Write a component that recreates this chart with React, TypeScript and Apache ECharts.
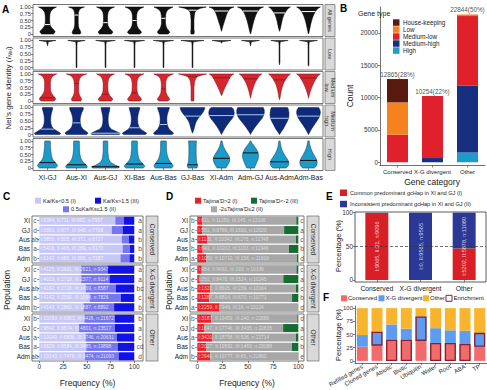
import React, { useEffect, useRef } from 'react';
import * as echarts from 'echarts';

const FONT = '"Liberation Sans", Arial, Helvetica, sans-serif';

// ---------------- Panel A: violins ----------------
const PAIRS = ['XI-GJ', 'Aus-XI', 'Aus-GJ', 'XI-Bas', 'Aus-Bas', 'GJ-Bas', 'XI-Adm', 'Adm-GJ', 'Aus-Adm', 'Adm-Bas'];
const GENE_ROWS = ['All genes', 'Low', 'Medium\nlow', 'Medium\nhigh', 'High'];
const LEVELS = [0, 0.05, 0.1, 0.2, 0.3, 0.4, 0.5, 0.6, 0.7, 0.8, 0.9, 0.95, 1];
const VIOLIN_ALL = [
  [0.4, 0.5, 0.52, 0.35, 0.2, 0.16, 0.15, 0.15, 0.16, 0.2, 0.31, 0.45, 0.62],
  [0.25, 0.3, 0.28, 0.18, 0.13, 0.12, 0.12, 0.12, 0.12, 0.14, 0.2, 0.32, 0.55],
  [0.4, 0.5, 0.48, 0.3, 0.18, 0.15, 0.14, 0.14, 0.15, 0.18, 0.28, 0.42, 0.62],
  [0.35, 0.48, 0.45, 0.28, 0.18, 0.15, 0.14, 0.14, 0.15, 0.19, 0.3, 0.45, 0.65],
  [0.3, 0.42, 0.4, 0.25, 0.17, 0.14, 0.14, 0.14, 0.15, 0.19, 0.3, 0.48, 0.66],
  [0.1, 0.12, 0.12, 0.1, 0.1, 0.1, 0.1, 0.11, 0.13, 0.17, 0.3, 0.55, 0.95],
  [0, 0, 0, 0.05, 0.1, 0.16, 0.22, 0.28, 0.34, 0.42, 0.52, 0.65, 0.86],
  [0, 0.03, 0.06, 0.1, 0.14, 0.19, 0.24, 0.3, 0.37, 0.46, 0.58, 0.7, 0.9],
  [0, 0, 0, 0.06, 0.1, 0.14, 0.18, 0.23, 0.3, 0.4, 0.52, 0.62, 0.75],
  [0, 0.03, 0.05, 0.09, 0.13, 0.17, 0.22, 0.28, 0.35, 0.45, 0.57, 0.68, 0.82],
];
const VIOLIN_LOW = [
  [0, 0, 0, 0, 0, 0, 0, 0, 0, 0, 0.04, 0.06, 0.58],
  [0.03, 0.03, 0.03, 0.03, 0.03, 0.03, 0.03, 0.03, 0.03, 0.03, 0.04, 0.06, 0.6],
  [0.03, 0.03, 0.03, 0.03, 0.03, 0.03, 0.03, 0.03, 0.03, 0.03, 0.04, 0.06, 0.68],
  [0.03, 0.03, 0.03, 0.03, 0.03, 0.03, 0.03, 0.03, 0.03, 0.03, 0.04, 0.06, 0.7],
  [0.03, 0.03, 0.03, 0.03, 0.03, 0.03, 0.03, 0.03, 0.03, 0.03, 0.04, 0.06, 0.7],
  [0.03, 0.03, 0.03, 0.03, 0.03, 0.03, 0.03, 0.03, 0.03, 0.03, 0.04, 0.07, 0.8],
  [0, 0, 0, 0, 0, 0, 0, 0, 0, 0, 0, 0.05, 0.65],
  [0, 0, 0, 0, 0, 0, 0, 0, 0, 0, 0.04, 0.06, 0.62],
  [0, 0, 0, 0.03, 0.03, 0.03, 0.03, 0.03, 0.03, 0.03, 0.04, 0.06, 0.6],
  [0, 0, 0.03, 0.03, 0.03, 0.03, 0.03, 0.03, 0.03, 0.03, 0.04, 0.06, 0.62],
];
const VIOLIN_MEDLOW = [
  [0.45, 0.55, 0.55, 0.4, 0.27, 0.21, 0.2, 0.2, 0.2, 0.23, 0.32, 0.45, 0.64],
  [0.3, 0.35, 0.33, 0.22, 0.16, 0.15, 0.15, 0.15, 0.16, 0.2, 0.3, 0.45, 0.7],
  [0.4, 0.5, 0.47, 0.3, 0.2, 0.17, 0.16, 0.16, 0.17, 0.21, 0.3, 0.44, 0.62],
  [0.38, 0.48, 0.45, 0.3, 0.2, 0.17, 0.16, 0.16, 0.17, 0.21, 0.3, 0.45, 0.65],
  [0.3, 0.42, 0.4, 0.27, 0.18, 0.16, 0.15, 0.15, 0.16, 0.2, 0.3, 0.47, 0.68],
  [0.08, 0.1, 0.1, 0.1, 0.1, 0.1, 0.1, 0.12, 0.14, 0.2, 0.32, 0.6, 0.97],
  [0, 0, 0, 0, 0.08, 0.15, 0.24, 0.33, 0.42, 0.52, 0.62, 0.72, 0.85],
  [0, 0, 0, 0.04, 0.08, 0.13, 0.19, 0.26, 0.34, 0.45, 0.57, 0.66, 0.78],
  [0, 0, 0.03, 0.06, 0.09, 0.13, 0.18, 0.24, 0.32, 0.43, 0.56, 0.65, 0.75],
  [0, 0, 0, 0.04, 0.09, 0.15, 0.22, 0.3, 0.39, 0.5, 0.6, 0.7, 0.82],
];
const VIOLIN_MEDHIGH = [
  [0.85, 0.9, 0.75, 0.45, 0.3, 0.24, 0.22, 0.22, 0.24, 0.28, 0.33, 0.36, 0.35],
  [0.7, 0.8, 0.7, 0.45, 0.32, 0.27, 0.25, 0.26, 0.3, 0.36, 0.44, 0.48, 0.46],
  [0.95, 1.0, 0.8, 0.4, 0.25, 0.2, 0.18, 0.18, 0.2, 0.24, 0.28, 0.3, 0.3],
  [0.75, 0.85, 0.7, 0.42, 0.3, 0.24, 0.22, 0.22, 0.24, 0.28, 0.33, 0.36, 0.36],
  [0.6, 0.7, 0.6, 0.4, 0.3, 0.25, 0.23, 0.23, 0.25, 0.3, 0.36, 0.4, 0.4],
  [0, 0, 0.04, 0.1, 0.15, 0.2, 0.28, 0.4, 0.55, 0.7, 0.8, 0.84, 0.85],
  [0, 0.05, 0.1, 0.2, 0.32, 0.45, 0.6, 0.75, 0.85, 0.88, 0.85, 0.8, 0.72],
  [0, 0.04, 0.1, 0.22, 0.35, 0.5, 0.65, 0.8, 0.9, 0.95, 0.95, 0.92, 0.88],
  [0, 0.06, 0.12, 0.25, 0.35, 0.45, 0.55, 0.62, 0.65, 0.65, 0.62, 0.6, 0.55],
  [0, 0.05, 0.1, 0.2, 0.32, 0.45, 0.58, 0.7, 0.78, 0.82, 0.8, 0.75, 0.7],
];
const VIOLIN_HIGH = [
  [0.55, 0.65, 0.7, 0.55, 0.38, 0.3, 0.26, 0.24, 0.22, 0.2, 0.2, 0.2, 0.18],
  [0.7, 0.75, 0.7, 0.5, 0.35, 0.28, 0.24, 0.22, 0.2, 0.2, 0.2, 0.2, 0.18],
  [0.9, 0.95, 0.7, 0.38, 0.25, 0.2, 0.18, 0.16, 0.16, 0.16, 0.16, 0.16, 0.15],
  [0.6, 0.7, 0.68, 0.5, 0.35, 0.27, 0.24, 0.22, 0.2, 0.2, 0.2, 0.2, 0.18],
  [0.55, 0.65, 0.65, 0.52, 0.38, 0.3, 0.25, 0.22, 0.2, 0.2, 0.2, 0.2, 0.18],
  [0.3, 0.35, 0.35, 0.3, 0.27, 0.26, 0.25, 0.25, 0.25, 0.25, 0.26, 0.27, 0.27],
  [0.3, 0.36, 0.42, 0.52, 0.57, 0.55, 0.45, 0.33, 0.22, 0.13, 0.08, 0.06, 0.04],
  [0.25, 0.3, 0.35, 0.42, 0.5, 0.55, 0.55, 0.5, 0.4, 0.27, 0.13, 0.07, 0.03],
  [0.45, 0.55, 0.62, 0.65, 0.58, 0.45, 0.33, 0.23, 0.15, 0.1, 0.07, 0.05, 0.04],
  [0.4, 0.5, 0.57, 0.6, 0.57, 0.47, 0.36, 0.26, 0.18, 0.12, 0.08, 0.06, 0.05],
];
const MEDIAN_ALL = [0.35, 0.7, 0.42, 0.5, 0.58, 0.88, 0.85, 0.85, 0.78, 0.83];
const MEDIAN_LOW = [null, null, null, null, null, null, null, null, null, null];
const MEDIAN_MEDLOW = [0.12, 0.65, 0.25, 0.3, 0.45, 0.9, 0.86, 0.82, 0.78, 0.85];
const MEDIAN_MEDHIGH = [0.2, 0.43, 0.05, 0.25, 0.37, 0.68, 0.7, 0.73, 0.6, 0.68];
const MEDIAN_HIGH = [0.2, 0.12, 0.05, 0.15, 0.17, 0.12, 0.36, 0.56, 0.23, 0.28];
const IDENTITY_TICKS = [0, 0.25, 0.5, 0.75, 1];

// ---------------- Panel B ----------------
const GENE_CATEGORIES = ['Conserved', 'X-G divergent', 'Other'];
const GENE_TYPES = ['House-keeping', 'Low', 'Medium-low', 'Medium-high', 'High'];
const B_HOUSEKEEPING = [3600, 0, 0];
const B_LOW = [5000, 0, 250];
const B_MEDLOW = [4265, 9600, 10750];
const B_MEDHIGH = [0, 654, 10330];
const B_HIGH = [0, 0, 1514];
const B_TOTALS = [12865, 10254, 22844];
const B_PCTS = ['28%', '22%', '50%'];
const COUNT_TICKS = [0, 5000, 10000, 15000, 20000];

// ---------------- Panels C / D ----------------
const POPS = ['XI', 'GJ', 'Aus', 'Bas', 'Adm'];
const PCT_TICKS = [0, 25, 50, 75, 100];
const KAKS_I = [[6384, 5883, 5850, 5416, 6142], [4125, 4019, 4192, 4142, 4143], [10293, 9842, 10049, 9829, 10143]];
const KAKS_II = [[711, 877, 505, 465, 680], [2601, 2718, 2726, 2590, 2862], [6953, 8874, 6836, 6584, 7476]];
const KAKS_III = [[882, 948, 372, 289, 365], [2621, 2377, 1669, 1094, 1887], [4426, 4801, 3746, 3485, 3474]];
const KAKS_N = [[7957, 7708, 6727, 6170, 7187], [9347, 9114, 8587, 7826, 8892], [21672, 23517, 20631, 19898, 21093]];
const KAKS_LEFT = [['c', 'd', 'ab', 'a', 'b'], ['c', 'c', 'ab', 'a', 'b'], ['b', 'c', 'a', 'a', 'ab']];
const KAKS_RIGHT = [['a', 'a', 'b', 'b', 'b'], ['a', 'a', 'bc', 'c', 'b'], ['b', 'a', 'c', 'cd', 'd']];
const TAJ_I = [[611, 561, 1131, 641, 1050], [454, 251, 1320, 1287, 2259], [3187, 1647, 3420, 2027, 2940]];
const TAJ_II = [[11250, 9769, 10342, 10202, 10710], [9692, 8470, 8605, 8814, 7949], [19459, 17746, 18758, 19592, 19777]];
const TAJ_III = [[245, 1690, 275, 1103, 156], [193, 1524, 239, 670, 16], [240, 3435, 536, 1469, 83]];
const TAJ_N = [[12106, 12020, 11748, 11946, 11916], [10339, 10245, 10164, 10771, 10224], [22886, 22828, 22714, 23088, 22800]];
const TAJ_LEFT = [['b', 'c', 'a', 'b', 'a'], ['d', 'e', 'b', 'c', 'a'], ['b', 'd', 'a', 'c', 'b']];
const TAJ_RIGHT = [['c', 'a', 'c', 'b', 'd'], ['c', 'a', 'c', 'b', 'd'], ['d', 'a', 'c', 'b', 'e']];

// ---------------- Panel E ----------------
const E_I = [9065, 0, 5202];
const E_II = [31, 9565, 5878];
const E_TICKS = [0, 50, 100];

// ---------------- Panel F ----------------
const F_SETS = ['Refilled genes', 'Cloned genes', 'Abiotic', 'Biotic', 'Ubiquitin', 'Water', 'Root', 'ABA', 'TP'];
const F_CONS = [27, 29, 40, 40, 38, 34, 34, 32, 27];
const F_XG = [22, 26, 29, 21, 46, 28, 24, 25, 26];
const F_OTHER = [51, 45, 31, 39, 16, 38, 42, 43, 47];
const F_ENRICH = ['', 'X-G divergent', 'Conserved', 'Conserved', 'X-G divergent', 'Conserved', 'Conserved', 'Conserved', 'X-G divergent'];

const T = (x: number, y: number, text: string, size: number, o: any = {}) => ({
  type: 'text', x, y, rotation: o.rotation || 0, silent: true, z: 10,
  style: {
    text, fontSize: size, fontFamily: FONT, fill: o.fill || '#222',
    align: o.align || 'left', textAlign: o.align || 'left',
    verticalAlign: o.va || 'middle', textVerticalAlign: o.va || 'middle',
    fontWeight: o.bold ? 'bold' : 'normal', rich: o.rich, lineHeight: o.lineHeight,
  },
});
const R = (x: number, y: number, w: number, h: number, fill: string, stroke?: string, lw = 0.7) => ({
  type: 'rect', silent: true, z: 9, shape: { x, y, width: w, height: h },
  style: { fill, stroke: stroke || 'none', lineWidth: stroke ? lw : 0 },
});

function violinRenderer(profiles: number[][], medians: (number | null)[], fill: string, stroke: string, medColor: string) {
  return (params: any, api: any) => {
    const i = params.dataIndex;
    const prof = profiles[i];
    const half = (api.coord([1, 0])[0] - api.coord([0, 0])[0]) / 2;
    const cx = api.coord([i, 0])[0];
    const a = prof.findIndex((v) => v > 0);
    let b = prof.length - 1;
    while (b > 0 && prof[b] <= 0) b--;
    const s = Math.max(0, a - 1);
    const e = Math.min(prof.length - 1, b + 1);
    const left: number[][] = [];
    const right: number[][] = [];
    for (let k = s; k <= e; k++) {
      const y = api.coord([i, LEVELS[k]])[1];
      const w = prof[k] * half;
      left.push([cx - w, y]);
      right.unshift([cx + w, y]);
    }
    const children: any[] = [
      { type: 'polygon', shape: { points: left.concat(right) }, style: { fill, stroke, lineWidth: 0.5 } },
    ];
    const m = medians[i];
    if (m != null) {
      let w = 0;
      for (let k = 0; k < LEVELS.length - 1; k++) {
        if (m >= LEVELS[k] && m <= LEVELS[k + 1]) {
          const t = (m - LEVELS[k]) / (LEVELS[k + 1] - LEVELS[k]);
          w = (prof[k] + t * (prof[k + 1] - prof[k])) * half;
          break;
        }
      }
      const y = api.coord([i, m])[1];
      children.push({ type: 'line', shape: { x1: cx - w, y1: y, x2: cx + w, y2: y }, style: { stroke: medColor, lineWidth: 1 } });
    }
    return { type: 'group', children };
  };
}

function buildOption() {
  const grids: any[] = [];
  const xAxes: any[] = [];
  const yAxes: any[] = [];
  const series: any[] = [];
  const g: any[] = [];

  // ---------- A ----------
  const A_TOPS = [4.5, 38, 71.5, 105, 138.5];
  const A_H = 32;
  const profiles = [VIOLIN_ALL, VIOLIN_LOW, VIOLIN_MEDLOW, VIOLIN_MEDHIGH, VIOLIN_HIGH];
  const medians: any[] = [MEDIAN_ALL, MEDIAN_LOW, MEDIAN_MEDLOW, MEDIAN_MEDHIGH, MEDIAN_HIGH];
  const fills = ['#111111', '#1a1a1a', '#d8262e', '#0e2a78', '#1c9bcb'];
  const strokes = ['#000000', '#000000', '#6e1015', '#07194d', '#0b3550'];
  const medCols = ['#ffffff', '#ffffff', '#8e1a1e', '#a9c9f0', '#111111'];
  for (let r = 0; r < 5; r++) {
    const gi = grids.length;
    grids.push({ left: 33, top: A_TOPS[r], width: 290, height: A_H, show: true, borderColor: '#555', borderWidth: 0.8, backgroundColor: 'transparent' });
    xAxes.push({
      gridIndex: gi, type: 'category', data: PAIRS,
      axisLine: { show: false }, splitLine: { show: false },
      axisTick: { show: r === 4, length: 2, alignWithLabel: true, lineStyle: { color: '#333', width: 0.6 } },
      axisLabel: { show: r === 4, fontSize: 7, color: '#222', margin: 3, interval: 0, fontFamily: FONT },
    });
    yAxes.push({
      gridIndex: gi, type: 'value', min: -0.09, max: 1.09,
      axisLine: { show: false }, splitLine: { show: false },
      axisTick: { show: true, length: 2, customValues: IDENTITY_TICKS, lineStyle: { color: '#333', width: 0.6 } },
      axisLabel: {
        customValues: IDENTITY_TICKS, fontSize: 5.8, color: '#333', margin: 2, fontFamily: FONT,
        formatter: (v: number) => (v === 0 ? (r === 1 ? '0.00' : '0') : v.toFixed(2)),
      },
    });
    series.push({
      type: 'custom', xAxisIndex: gi, yAxisIndex: gi, clip: false, silent: true,
      data: PAIRS.map((_, i) => [i, 0.5]),
      encode: { x: 0, y: 1 },
      renderItem: violinRenderer(profiles[r], medians[r], fills[r], strokes[r], medCols[r]),
    });
    g.push(R(325, A_TOPS[r], 10, A_H, '#d9d9d9', '#555', 0.6));
    g.push(T(330, A_TOPS[r] + A_H / 2, GENE_ROWS[r], 5.5, { rotation: -Math.PI / 2, align: 'center', fill: '#333', lineHeight: 6 }));
  }
  g.push(T(2, 9, 'A', 10, { bold: true, fill: '#000' }));
  g.push({
    type: 'text', x: 8, y: 88, rotation: Math.PI / 2, silent: true,
    style: {
      text: "Nei's gene identity ({i|I}{s|Nei})", fontSize: 8, fontFamily: FONT, fill: '#222',
      align: 'center', textAlign: 'center', verticalAlign: 'middle', textVerticalAlign: 'middle',
      rich: { i: { fontStyle: 'italic', fontSize: 8, fontFamily: FONT }, s: { fontStyle: 'italic', fontSize: 5.5, fontFamily: FONT, verticalAlign: 'bottom', padding: [3, 0, 0, 0] } },
    },
  });

  // ---------- B ----------
  {
    const gi = grids.length;
    grids.push({ left: 380, top: 7, width: 105, height: 158.5 });
    xAxes.push({
      gridIndex: gi, type: 'category', data: GENE_CATEGORIES,
      axisLine: { show: true, onZero: false, lineStyle: { color: '#333', width: 0.7 } },
      axisTick: { show: true, length: 2, alignWithLabel: true, lineStyle: { color: '#333', width: 0.6 } },
      axisLabel: { fontSize: 6, color: '#222', margin: 3, interval: 0, fontFamily: FONT },
    });
    yAxes.push({
      gridIndex: gi, type: 'value', min: -500, max: 24000,
      axisLine: { show: true, lineStyle: { color: '#333', width: 0.7 } }, splitLine: { show: false },
      axisTick: { show: true, length: 2, customValues: COUNT_TICKS, lineStyle: { color: '#333', width: 0.6 } },
      axisLabel: { customValues: COUNT_TICKS, fontSize: 6.3, color: '#333', margin: 2, fontFamily: FONT, formatter: (v: number) => String(v) },
    });
    const stackOrder: [string, number[], string][] = [
      ['High', B_HIGH, '#1b9cc9'],
      ['Medium-high', B_MEDHIGH, '#172f7f'],
      ['Medium-low', B_MEDLOW, '#e0202a'],
      ['Low', B_LOW, '#f5821f'],
      ['House-keeping', B_HOUSEKEEPING, '#5a1a0f'],
    ];
    stackOrder.forEach(([name, arr, color]) => {
      series.push({ type: 'bar', name, xAxisIndex: gi, yAxisIndex: gi, stack: 'b', barWidth: 21, data: arr, itemStyle: { color }, silent: true });
    });
    series.push({
      type: 'scatter', xAxisIndex: gi, yAxisIndex: gi, symbolSize: 1, itemStyle: { color: 'rgba(0,0,0,0)' }, silent: true, z: 5,
      data: B_TOTALS.map((v, i) => [i, v]),
      label: { show: true, position: 'top', distance: 1, fontSize: 6.3, color: '#222', fontFamily: FONT, formatter: (p: any) => `${B_TOTALS[p.dataIndex]}(${B_PCTS[p.dataIndex]})` },
    });
    const colorOf: Record<string, string> = {};
    stackOrder.forEach(([n, , c]) => (colorOf[n] = c));
    g.push(T(340, 8, 'B', 10, { bold: true, fill: '#000' }));
    g.push(T(358, 13, 'Gene type', 7));
    GENE_TYPES.forEach((n, k) => {
      const y = 22.5 + k * 7;
      g.push(R(393, y - 3.2, 6.5, 6.5, colorOf[n]));
      g.push(T(403, y, n, 6.3));
    });
    g.push(T(350, 96, 'Count', 8.5, { rotation: Math.PI / 2, align: 'center' }));
    g.push(T(432, 181.5, 'Gene category', 8.5, { align: 'center' }));
  }

  // ---------- C & D ----------
  const FACET_TOPS = [216, 265, 314];
  const FACET_H = 47;
  const FACET_NAMES = ['Conserved', 'X-G divergent', 'Other'];
  const facetPanel = (cfg: any) => {
    for (let f = 0; f < 3; f++) {
      const gi = grids.length;
      const last = f === 2;
      grids.push({ left: cfg.left, top: FACET_TOPS[f], width: cfg.width, height: FACET_H, show: true, borderColor: '#555', borderWidth: 0.8, backgroundColor: 'transparent' });
      xAxes.push({
        gridIndex: gi, type: 'value', min: cfg.min, max: cfg.max,
        axisLine: { show: false }, splitLine: { show: false },
        axisTick: { show: last, length: 2, customValues: PCT_TICKS, lineStyle: { color: '#333', width: 0.6 } },
        axisLabel: { show: last, customValues: PCT_TICKS, fontSize: 6.5, color: '#333', margin: 2, fontFamily: FONT },
      });
      yAxes.push({
        gridIndex: gi, type: 'category', data: POPS, inverse: true,
        axisLine: { show: false },
        axisTick: { show: true, length: 2, alignWithLabel: true, lineStyle: { color: '#333', width: 0.6 } },
        axisLabel: { fontSize: 6.5, color: '#222', margin: 2, fontFamily: FONT },
      });
      const parts = [cfg.I[f], cfg.II[f], cfg.III[f]];
      const totals = POPS.map((_, i) => parts[0][i] + parts[1][i] + parts[2][i]);
      parts.forEach((arr: number[], p: number) => {
        series.push({
          type: 'bar', xAxisIndex: gi, yAxisIndex: gi, stack: 's' + gi, barCategoryGap: '14%', silent: true,
          data: arr.map((v, i) => (v / totals[i]) * 100), itemStyle: { color: cfg.colors[p] },
        });
      });
      series.push({
        type: 'scatter', xAxisIndex: gi, yAxisIndex: gi, symbolSize: 1, itemStyle: { color: 'rgba(0,0,0,0)' }, silent: true, z: 6,
        data: POPS.map((p) => [0.8, p]),
        label: {
          show: true, position: 'right', distance: 0, fontSize: 4.9, color: cfg.textColor, fontFamily: FONT,
          formatter: (pp: any) => {
            const i = pp.dataIndex;
            return `I:${cfg.I[f][i]}, II:${cfg.II[f][i]}, III:${cfg.III[f][i]}, n:${cfg.N[f][i]}`;
          },
        },
      });
      series.push({
        type: 'scatter', xAxisIndex: gi, yAxisIndex: gi, symbolSize: 1, itemStyle: { color: 'rgba(0,0,0,0)' }, silent: true, z: 6,
        data: POPS.map((p, i) => ({ value: [cfg.leftX, p], label: { formatter: cfg.L[f][i] } }))
          .concat(POPS.map((p, i) => ({ value: [cfg.rightX, p], label: { formatter: cfg.Rt[f][i] } }))),
        label: { show: true, position: 'inside', fontSize: 6.5, color: '#222', fontFamily: FONT },
      });
      g.push(R(cfg.stripX, FACET_TOPS[f], 12, FACET_H, '#d9d9d9', '#555', 0.6));
      g.push(T(cfg.stripX + 6, FACET_TOPS[f] + FACET_H / 2, FACET_NAMES[f], 6.5, { rotation: -Math.PI / 2, align: 'center', fill: '#333' }));
    }
    g.push(T(cfg.titleX, 290, 'Population', 8.5, { rotation: Math.PI / 2, align: 'center' }));
    g.push(T(cfg.left + cfg.width / 2, 383, 'Frequency (%)', 8.5, { align: 'center' }));
  };

  const KAKS_COLORS = ['#c7c7f6', '#7676ef', '#1212e4'];
  facetPanel({
    left: 32, width: 111, min: -7.7, max: 109.2, leftX: -4.6, rightX: 106, stripX: 146, titleX: 7,
    I: KAKS_I, II: KAKS_II, III: KAKS_III, N: KAKS_N, L: KAKS_LEFT, Rt: KAKS_RIGHT,
    colors: KAKS_COLORS, textColor: '#ffffff',
  });
  g.push(T(3, 196, 'C', 10, { bold: true, fill: '#000' }));
  g.push(R(35, 197.7, 6, 6, KAKS_COLORS[0]));
  g.push(T(43, 200.7, 'Ka/Ks<0.5 (I)', 5.6));
  g.push(R(95, 197.7, 6, 6, KAKS_COLORS[2]));
  g.push(T(103, 200.7, 'Ka/Ks>1.5 (III)', 5.6));
  g.push(R(63, 206.3, 6, 6, KAKS_COLORS[1]));
  g.push(T(71, 209.3, '0.5≤Ka/Ks≤1.5 (II)', 5.6));

  const TAJ_COLORS = ['#ee1f26', '#a7a7a7', '#176c33'];
  facetPanel({
    left: 190, width: 114, min: -7.2, max: 105.6, leftX: -4.4, rightX: 103.6, stripX: 307, titleX: 169,
    I: TAJ_I, II: TAJ_II, III: TAJ_III, N: TAJ_N, L: TAJ_LEFT, Rt: TAJ_RIGHT,
    colors: TAJ_COLORS, textColor: '#e9e9e9',
  });
  g.push(T(166, 196, 'D', 10, { bold: true, fill: '#000' }));
  g.push(R(195, 197.7, 6, 6, TAJ_COLORS[0]));
  g.push(T(203, 200.7, "Tajima'D>2 (I)", 5.6));
  g.push(R(251, 197.7, 6, 6, TAJ_COLORS[2]));
  g.push(T(259, 200.7, "Tajima'D<-2 (III)", 5.6));
  g.push(R(211, 206.3, 6, 6, TAJ_COLORS[1]));
  g.push(T(219, 209.3, "-2≤Tajima'D≤2 (II)", 5.6));

  // ---------- E ----------
  {
    const gi = grids.length;
    grids.push({ left: 355, top: 212, width: 131, height: 70, show: true, borderColor: '#333', borderWidth: 0.8, backgroundColor: 'transparent' });
    xAxes.push({
      gridIndex: gi, type: 'category', data: GENE_CATEGORIES,
      axisLine: { show: false },
      axisTick: { show: true, length: 2, alignWithLabel: true, lineStyle: { color: '#333', width: 0.6 } },
      axisLabel: { fontSize: 6.8, color: '#222', margin: 3, interval: 0, fontFamily: FONT },
    });
    yAxes.push({
      gridIndex: gi, type: 'value', min: -3, max: 101,
      axisLine: { show: false }, splitLine: { show: false },
      axisTick: { show: true, length: 2, customValues: E_TICKS, lineStyle: { color: '#333', width: 0.6 } },
      axisLabel: { customValues: E_TICKS, fontSize: 6.5, color: '#333', margin: 2, fontFamily: FONT },
    });
    const tot = E_I.map((v, i) => v + E_II[i]);
    series.push({
      type: 'bar', xAxisIndex: gi, yAxisIndex: gi, stack: 'e', barWidth: 23, silent: true,
      data: E_I.map((v, i) => (v / tot[i]) * 100), itemStyle: { color: '#d91f26' },
      markLine: {
        silent: true, symbol: ['none', 'none'], label: { show: false },
        lineStyle: { type: [3, 2], color: '#333', width: 0.7 }, data: [{ yAxis: 50 }],
      },
    });
    series.push({
      type: 'bar', xAxisIndex: gi, yAxisIndex: gi, stack: 'e', barWidth: 23, silent: true,
      data: E_II.map((v, i) => (v / tot[i]) * 100), itemStyle: { color: '#2c3896' },
    });
    series.push({
      type: 'scatter', xAxisIndex: gi, yAxisIndex: gi, symbolSize: 1, itemStyle: { color: 'rgba(0,0,0,0)' }, silent: true, z: 6,
      data: GENE_CATEGORIES.map((_, i) => [i, 50]),
      label: {
        show: true, position: 'inside', rotate: 90, fontSize: 5.6, color: '#ffffff', fontFamily: FONT,
        formatter: (p: any) => `I:${E_I[p.dataIndex]}, II:${E_II[p.dataIndex]}, n:${tot[p.dataIndex]}`,
      },
    });
    g.push(T(326, 196, 'E', 10, { bold: true, fill: '#000' }));
    g.push(R(340, 189.5, 7, 6.5, '#d91f26'));
    g.push(T(350, 192.8, 'Common predominant gcHap in XI and GJ (I)', 5.6));
    g.push(R(340, 200.8, 7, 6.5, '#2c3896'));
    g.push(T(350, 204, 'Inconsistent predominant gcHap in XI and GJ (II)', 5.6));
    g.push(T(338, 246, 'Percentage (%)', 7.5, { rotation: Math.PI / 2, align: 'center' }));
  }

  // ---------- F ----------
  {
    const gi = grids.length;
    grids.push({ left: 355, top: 306, width: 132, height: 57 });
    xAxes.push({
      gridIndex: gi, type: 'category', data: F_SETS,
      axisLine: { show: true, onZero: false, lineStyle: { color: '#333', width: 0.7 } },
      axisTick: { show: true, length: 2, alignWithLabel: true, lineStyle: { color: '#333', width: 0.6 } },
      axisLabel: { fontSize: 6, color: '#222', margin: 3, interval: 0, rotate: 30, fontFamily: FONT },
    });
    yAxes.push({
      gridIndex: gi, type: 'value', min: -4, max: 104,
      axisLine: { show: true, lineStyle: { color: '#333', width: 0.7 } }, splitLine: { show: false },
      axisTick: { show: true, length: 2, customValues: PCT_TICKS, lineStyle: { color: '#333', width: 0.6 } },
      axisLabel: { customValues: PCT_TICKS, fontSize: 6, color: '#333', margin: 2, fontFamily: FONT },
    });
    const BW = 11;
    const fSeries: [number[], string][] = [[F_CONS, '#f26b6b'], [F_XG, '#5d9cf0'], [F_OTHER, '#f8b42c']];
    fSeries.forEach(([arr, color]) => {
      series.push({ type: 'bar', xAxisIndex: gi, yAxisIndex: gi, stack: 'f', barWidth: BW, silent: true, data: arr, itemStyle: { color } });
    });
    series.push({
      type: 'custom', xAxisIndex: gi, yAxisIndex: gi, silent: true, clip: false, z: 5,
      data: F_SETS.map((_, i) => {
        const e = F_ENRICH[i];
        if (e === 'Conserved') return [i, 0, F_CONS[i]];
        if (e === 'X-G divergent') return [i, F_CONS[i], F_CONS[i] + F_XG[i]];
        return [i, 0, 0];
      }),
      encode: { x: 0, y: [1, 2] },
      renderItem: (params: any, api: any) => {
        const i = params.dataIndex;
        const y0 = api.value(1);
        const y1 = api.value(2);
        if (y1 <= y0) return null;
        const p0 = api.coord([i, y0]);
        const p1 = api.coord([i, y1]);
        return {
          type: 'rect',
          shape: { x: p0[0] - BW / 2 + 0.6, y: p1[1] + 0.6, width: BW - 1.2, height: p0[1] - p1[1] - 1.2 },
          style: { fill: 'none', stroke: '#8b1c31', lineWidth: 1.3 },
        };
      },
    });
    g.push(T(323, 297, 'F', 10, { bold: true, fill: '#000' }));
    g.push(R(341, 295.3, 6, 6, '#f26b6b'));
    g.push(T(348, 298.3, 'Conserved', 6));
    g.push(R(378.5, 295.3, 6, 6, '#5d9cf0'));
    g.push(T(385.5, 298.3, 'X-G divergent', 6));
    g.push(R(423, 295.3, 6, 6, '#f8b42c'));
    g.push(T(430, 298.3, 'Other', 6));
    g.push(R(446, 295.3, 6, 6, 'none', '#8b1c31', 1));
    g.push(T(453.5, 298.3, 'Enrichment', 6));
    g.push(T(338, 335, 'Percentage (%)', 7.5, { rotation: Math.PI / 2, align: 'center' }));
  }

  return {
    animation: false,
    backgroundColor: '#ffffff',
    textStyle: { fontFamily: FONT },
    grid: grids,
    xAxis: xAxes,
    yAxis: yAxes,
    series,
    graphic: { elements: g },
  };
}

export default function App() {
  const ref = useRef<HTMLDivElement>(null);
  useEffect(() => {
    if (!ref.current) return;
    const chart = echarts.init(ref.current, null, { renderer: 'svg' });
    chart.setOption(buildOption() as any);
    return () => chart.dispose();
  }, []);
  return <div ref={ref} style={{ position: 'fixed', left: 0, top: 0, width: 487, height: 390, background: '#fff' }} />;
}
